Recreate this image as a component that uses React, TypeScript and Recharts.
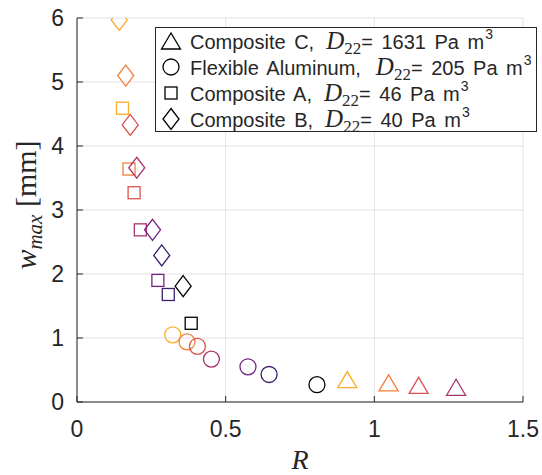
import React from 'react';
import { ScatterChart, Scatter, XAxis, YAxis, CartesianGrid, Legend } from 'recharts';

// colour order: yellow -> black (index within each series)
const PALETTE = ['#fbac28', '#f57e38', '#dd5350', '#a8336f', '#742384', '#3d1f6d', '#000000'];

const compCR = [0.909, 1.048, 1.149, 1.275];
const compCW = [0.35, 0.3, 0.26, 0.23];
const alumR = [0.322, 0.37, 0.405, 0.452, 0.575, 0.646, 0.807];
const alumW = [1.05, 0.94, 0.87, 0.67, 0.55, 0.43, 0.27];
const compAR = [0.153, 0.175, 0.192, 0.213, 0.272, 0.307, 0.384];
const compAW = [4.59, 3.64, 3.27, 2.69, 1.9, 1.68, 1.23];
const compBR = [0.142, 0.164, 0.179, 0.201, 0.254, 0.285, 0.357];
const compBW = [5.97, 5.1, 4.33, 3.66, 2.69, 2.29, 1.81];

const xTicks = [0, 0.5, 1, 1.5];
const yTicks = [0, 1, 2, 3, 4, 5, 6];

const build = (xs: number[], ys: number[]) => xs.map((x, i) => ({ x, y: ys[i], ci: i }));
const dataC = build(compCR, compCW);
const dataAl = build(alumR, alumW);
const dataA = build(compAR, compAW);
const dataB = build(compBR, compBW);

const SW = 1.3;
const AX = '#262626';

const TriMark = ({ cx, cy, c }: any) => (
  <polygon points={`${cx - 9.5},${cy + 8} ${cx + 9.5},${cy + 8} ${cx},${cy - 8}`} fill="none" stroke={c} strokeWidth={SW} />
);
const CircMark = ({ cx, cy, c }: any) => <circle cx={cx} cy={cy} r={8} fill="none" stroke={c} strokeWidth={SW} />;
const SqMark = ({ cx, cy, c }: any) => <rect x={cx - 6} y={cy - 6} width={12} height={12} fill="none" stroke={c} strokeWidth={SW} />;
const DiaMark = ({ cx, cy, c }: any) => (
  <polygon points={`${cx},${cy - 10.5} ${cx + 8},${cy} ${cx},${cy + 10.5} ${cx - 8},${cy}`} fill="none" stroke={c} strokeWidth={SW} />
);

const mk = (M: any) => (p: any) => <M cx={p.cx} cy={p.cy} c={PALETTE[p.payload.ci]} />;

const fmt = (v: number) => String(v);

const legendRows = [
  { M: TriMark, name: 'Composite C,', d: '1631', gap: 12 },
  { M: CircMark, name: 'Flexible Aluminum,', d: '205', gap: 15 },
  { M: SqMark, name: 'Composite A,', d: '46', gap: 12 },
  { M: DiaMark, name: 'Composite B,', d: '40', gap: 12 },
];

const LegendBox = () => (
  <div
    style={{
      position: 'relative',
      width: 382,
      height: 105,
      boxSizing: 'border-box',
      border: `1px solid ${AX}`,
      background: '#fff',
      fontFamily: 'Liberation Sans, Arial, sans-serif',
      fontSize: 20,
      color: AX,
      whiteSpace: 'nowrap',
    }}
  >
    {legendRows.map((r, i) => (
      <div key={i} style={{ position: 'absolute', left: 0, top: i * 26, height: 26, width: '100%' }}>
        <svg width={30} height={26} style={{ position: 'absolute', left: 0, top: 0 }}>
          <r.M cx={15} cy={13} c="#000" />
        </svg>
        <div style={{ position: 'absolute', left: 34, top: 0, lineHeight: '26px', wordSpacing: 3 }}>
          <span>{r.name}</span>
          <span style={{ display: 'inline-block', width: r.gap }} />
          <span style={{ fontFamily: 'Liberation Serif, serif', fontStyle: 'italic', fontSize: 25 }}>D</span>
          <span style={{ fontFamily: 'Liberation Serif, serif', fontSize: 17, position: 'relative', top: 5 }}>22</span>
          <span>= {r.d} Pa m</span>
          <span style={{ fontSize: 14, position: 'relative', top: -10, marginLeft: 1 }}>3</span>
        </div>
      </div>
    ))}
  </div>
);

const YLabel = (props: any) => {
  const vb = props.viewBox || { x: 0, y: 18, width: 77, height: 384 };
  const x = vb.x + 36;
  const y = vb.y + vb.height / 2 - 5;
  return (
    <text transform={`rotate(-90, ${x}, ${y})`} x={x} y={y} textAnchor="middle" fill={AX} fontFamily="Liberation Serif, serif" fontSize={30}>
      <tspan fontStyle="italic">w</tspan>
      <tspan fontStyle="italic" fontSize={21} dy={6}>max</tspan>
      <tspan dy={-6}> [mm]</tspan>
    </text>
  );
};

const XLabel = (props: any) => {
  const vb = props.viewBox || { x: 77, y: 402, width: 446, height: 73 };
  return (
    <text x={vb.x + vb.width / 2} y={vb.y + 67} textAnchor="middle" fill={AX} fontFamily="Liberation Serif, serif" fontStyle="italic" fontSize={28}>
      R
    </text>
  );
};

const tickStyle = { fill: AX, fontSize: 23, fontFamily: 'Liberation Sans, Arial, sans-serif' };

export default function App() {
  return (
    <div style={{ position: 'absolute', left: 0, top: 0, background: '#fff' }}>
      <ScatterChart width={542} height={475} margin={{ top: 18, right: 19, bottom: 0, left: 0 }}>
        <CartesianGrid stroke="#e3e3e3" strokeWidth={1} />
        <XAxis
          type="number"
          dataKey="x"
          domain={[0, 1.5]}
          ticks={xTicks}
          interval={0}
          height={73}
          tickSize={-6}
          tickMargin={25}
          tickFormatter={fmt}
          tick={tickStyle}
          stroke={AX}
          allowDataOverflow
          label={{ content: XLabel }}
        />
        <XAxis xAxisId="top" orientation="top" type="number" dataKey="x" domain={[0, 1.5]} ticks={xTicks} interval={0} height={0} tickSize={-6} tick={false} stroke={AX} allowDataOverflow />
        <YAxis
          type="number"
          dataKey="y"
          domain={[0, 6]}
          ticks={yTicks}
          interval={0}
          width={77}
          tickSize={-6}
          tickMargin={19}
          tickFormatter={fmt}
          tick={tickStyle}
          stroke={AX}
          allowDataOverflow
          label={{ content: YLabel }}
        />
        <YAxis yAxisId="right" orientation="right" type="number" dataKey="y" domain={[0, 6]} ticks={yTicks} interval={0} width={0} tickSize={-6} tick={false} stroke={AX} allowDataOverflow />
        <Scatter name="Composite C" data={dataC} xAxisId="top" yAxisId="right" shape={mk(TriMark)} isAnimationActive={false} />
        <Scatter name="Flexible Aluminum" data={dataAl} shape={mk(CircMark)} isAnimationActive={false} />
        <Scatter name="Composite A" data={dataA} shape={mk(SqMark)} isAnimationActive={false} />
        <Scatter name="Composite B" data={dataB} shape={mk(DiaMark)} isAnimationActive={false} />
        <Legend
          layout="vertical"
          align="center"
          verticalAlign="middle"
          content={LegendBox}
          wrapperStyle={{ left: 155, top: 27, width: 382, height: 105 }}
        />
      </ScatterChart>
    </div>
  );
}
